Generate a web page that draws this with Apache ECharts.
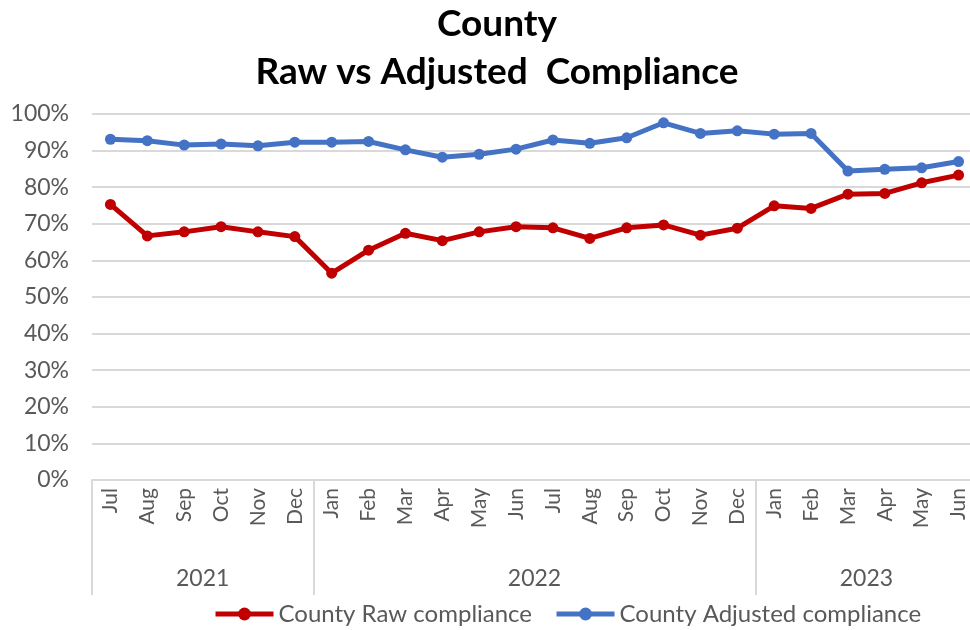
<!DOCTYPE html>
<html>
<head>
<meta charset="utf-8">
<script src="https://cdn.jsdelivr.net/npm/echarts@6/dist/echarts.min.js"></script>
<style>
  html, body { margin: 0; padding: 0; background: #fff; }
</style>
</head>
<body>
<div id="main" style="width: 970px;height:630px;"></div>
<script>
    // months Jul 2021 - Jun 2023
    var months = ['Jul', 'Aug', 'Sep', 'Oct', 'Nov', 'Dec',
        'Jan', 'Feb', 'Mar', 'Apr', 'May', 'Jun', 'Jul', 'Aug', 'Sep', 'Oct', 'Nov', 'Dec',
        'Jan', 'Feb', 'Mar', 'Apr', 'May', 'Jun'];
    var years = ['2021', '2022', '2023'];
    var yearCenters = [2.5, 11.5, 20.5];
    var yearBounds = [-0.5, 5.5, 17.5, 23.5];

    var rawCompliance = [75.3, 66.7, 67.8, 69.2, 67.8, 66.5,
        56.5, 62.8, 67.4, 65.4, 67.8, 69.2, 68.9, 66.0, 68.9, 69.7, 66.9, 68.8,
        74.9, 74.2, 78.1, 78.3, 81.2, 83.3];
    var adjustedCompliance = [93.1, 92.7, 91.5, 91.8, 91.3, 92.3,
        92.3, 92.5, 90.2, 88.2, 89.0, 90.4, 92.9, 92.0, 93.5, 97.6, 94.7, 95.4,
        94.5, 94.7, 84.4, 84.9, 85.3, 87.0];

    var font = 'Lato, "Open Sans", sans-serif';
    var grey = '#595959';

    var myChart = echarts.init(document.getElementById('main'));

    var option = {
        animation: false,
        title: {
            text: 'County\nRaw vs Adjusted  Compliance',
            left: 497,
            top: 0,
            padding: 0,
            textAlign: 'center',
            textStyle: {
                fontFamily: font,
                fontWeight: 'bold',
                fontSize: 37,
                lineHeight: 48,
                color: '#000'
            }
        },
        legend: {
            left: 213,
            top: 602,
            padding: 0,
            itemWidth: 58,
            itemHeight: 16,
            itemGap: 22,
            lineStyle: { width: 5 },
            textStyle: { fontFamily: font, fontSize: 24, color: grey },
            data: ['County Raw compliance', 'County Adjusted compliance']
        },
        grid: {
            left: 92,
            width: 885,
            top: 114,
            bottom: 150,
            outerBoundsMode: 'none',
            containLabel: false
        },
        xAxis: [
            {
                type: 'category',
                data: months,
                boundaryGap: true,
                axisLine: { show: false },
                axisTick: { show: false },
                axisLabel: {
                    rotate: 90,
                    margin: 8,
                    interval: 0,
                    fontFamily: font,
                    fontSize: 21,
                    color: grey
                }
            },
            {
                type: 'value',
                min: -0.5,
                max: 23.5,
                position: 'bottom',
                splitLine: { show: false },
                axisLine: { show: true, lineStyle: { color: '#d9d9d9', width: 2 } },
                axisTick: {
                    show: true,
                    customValues: yearBounds,
                    length: 115,
                    lineStyle: { color: '#d9d9d9', width: 2 }
                },
                axisLabel: {
                    customValues: yearCenters,
                    margin: 87,
                    fontFamily: font,
                    fontSize: 23,
                    color: grey,
                    formatter: function (v) {
                        return years[yearCenters.indexOf(v)];
                    }
                }
            }
        ],
        yAxis: {
            type: 'value',
            min: 0,
            max: 100,
            interval: 10,
            axisLine: { show: false },
            axisTick: { show: false },
            splitLine: { lineStyle: { color: '#d9d9d9', width: 2 } },
            axisLabel: {
                formatter: '{value}%',
                margin: 23,
                fontFamily: font,
                fontSize: 23,
                color: grey
            }
        },
        series: [
            {
                name: 'County Raw compliance',
                type: 'line',
                xAxisIndex: 0,
                data: rawCompliance,
                symbol: 'circle',
                symbolSize: 11,
                itemStyle: { color: '#C00000' },
                lineStyle: { color: '#C00000', width: 5 }
            },
            {
                name: 'County Adjusted compliance',
                type: 'line',
                xAxisIndex: 0,
                data: adjustedCompliance,
                symbol: 'circle',
                symbolSize: 11,
                itemStyle: { color: '#4472C4' },
                lineStyle: { color: '#4472C4', width: 5 }
            }
        ]
    };
    myChart.setOption(option);
</script>
</body>
</html>
